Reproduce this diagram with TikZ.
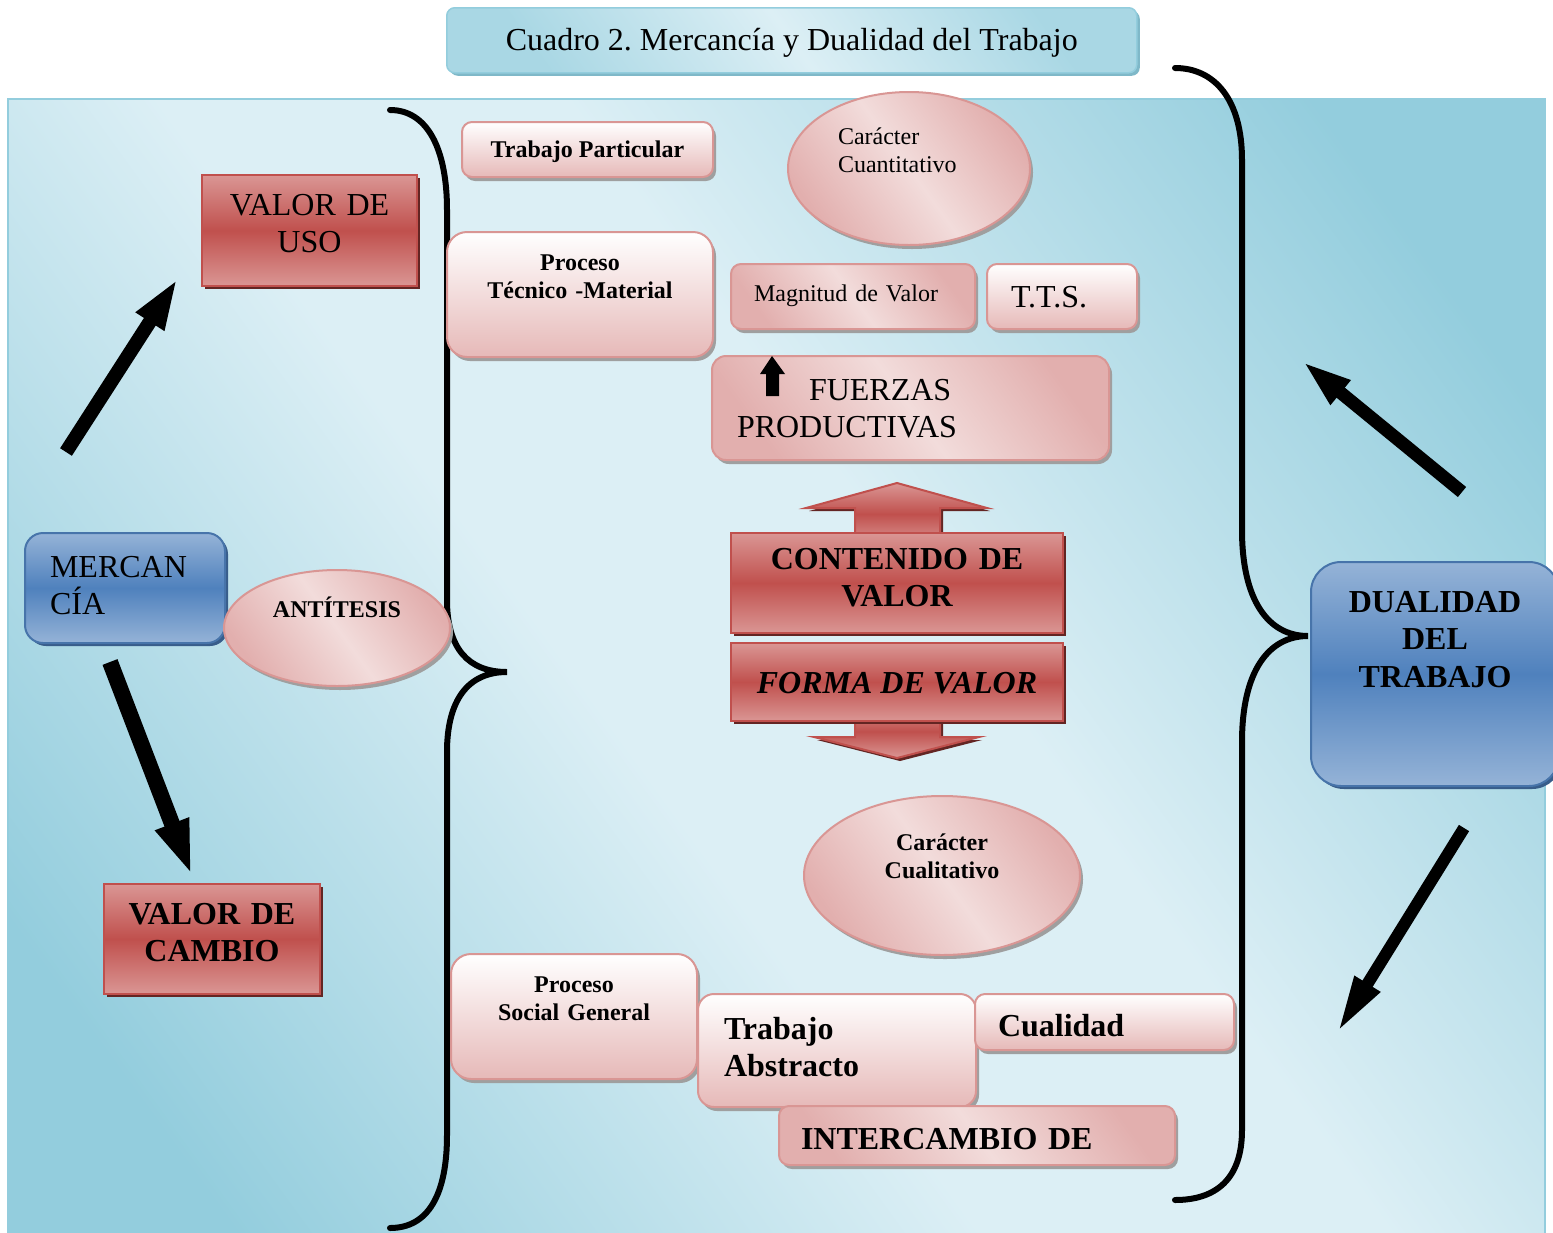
\documentclass[tikz,border=0pt]{standalone}
\usepackage{fontspec}
\setmainfont{Liberation Serif}
\usetikzlibrary{arrows.meta,positioning,shapes.geometric,shadows}
\definecolor{panelL}{HTML}{DCEFF5}
\definecolor{panelD}{HTML}{93CDDD}
\definecolor{titleS}{HTML}{7FB8C8}
\definecolor{redL}{HTML}{DA9694}
\definecolor{redM}{HTML}{C0504D}
\definecolor{redS}{HTML}{632523}
\definecolor{blueL}{HTML}{95B3D7}
\definecolor{blueM}{HTML}{4F81BD}
\definecolor{blueS}{HTML}{385D8A}
\definecolor{pinkL}{HTML}{F2DCDB}
\definecolor{pinkV}{HTML}{E6B9B8}
\definecolor{pinkD}{HTML}{E2AFAE}
\definecolor{pinkB}{HTML}{D99694}
\pgfdeclareverticalshading{panelshade}{100bp}{color(0bp)=(panelD); color(22bp)=(panelD); color(44bp)=(panelL); color(56bp)=(panelL); color(78bp)=(panelD); color(100bp)=(panelD)}
\newcommand\bigtxt{\fontsize{32}{37.5}\selectfont}
\newcommand\smltxt{\fontsize{24}{28}\selectfont}
\frenchspacing

\begin{document}
\begin{tikzpicture}[x=1pt,y=-1pt,
  panel/.style={draw=panelD,line width=1.5pt,shading=panelshade,shading angle=-54},
  titlebox/.style={draw=panelD,line width=1.5pt,rounded corners=8pt,top color=panelD!70!panelL,bottom color=panelD!70!panelL,middle color=panelL,shading angle=-54,
    drop shadow={shadow xshift=3pt,shadow yshift=-3pt,fill=titleS,opacity=1},inner sep=0pt,anchor=north west},
  redbox/.style={draw=redM,line width=2pt,top color=redL,bottom color=redL,middle color=redM,
    drop shadow={shadow xshift=3pt,shadow yshift=-3pt,fill=redS,opacity=1},inner sep=0pt,anchor=north west},
  bluebox/.style={draw=blueM!90!black,line width=2pt,rounded corners=18pt,top color=blueL,bottom color=blueL,middle color=blueM,
    drop shadow={shadow xshift=3pt,shadow yshift=-3pt,fill=blueS,opacity=1},inner sep=0pt,anchor=north west},
  pinkbox/.style={draw=pinkB,line width=2pt,rounded corners=10pt,top color=white,bottom color=pinkV,
    drop shadow={shadow xshift=3pt,shadow yshift=-4pt,fill=gray!75,opacity=1},inner sep=0pt,anchor=north west},
  pinkdiag/.style={draw=pinkB,line width=2pt,rounded corners=10pt,top color=pinkD,bottom color=pinkD,middle color=pinkL,shading angle=-54,
    drop shadow={shadow xshift=3pt,shadow yshift=-4pt,fill=gray!75,opacity=1},inner sep=0pt,anchor=north west},
  ovalbox/.style={ellipse,draw=pinkB,line width=2pt,top color=pinkD,bottom color=pinkD,middle color=pinkL,shading angle=-54,
    drop shadow={shadow xshift=3pt,shadow yshift=-4pt,fill=gray!75,opacity=1},inner sep=0pt},
  redarr/.style={draw=redM,line width=2pt,top color=redL,bottom color=redL,middle color=redM,
    drop shadow={shadow xshift=3pt,shadow yshift=-3pt,fill=redS,opacity=1}},
  brace/.style={line width=6pt,line cap=round},
  blk/.style 2 args={line width=13pt,-{Triangle[length=#1,width=#2]}}]

\useasboundingbox (0,0) rectangle (1553,1232);
\path[panel] (8,99) rectangle (1545,1240);

% braces
\draw[brace] (390,110) .. controls (428,110) and (447,150) .. (447,210) -- (447,600)
  .. controls (447,648) and (468,672) .. (507,672) .. controls (468,672) and (447,700) .. (447,752)
  -- (447,1135) .. controls (447,1195) and (428,1228) .. (390,1228);
\draw[brace] (1175,68) .. controls (1215,68) and (1242,100) .. (1242,160) -- (1242,530)
  .. controls (1242,600) and (1268,636) .. (1308,636) .. controls (1268,636) and (1242,672) .. (1242,742)
  -- (1242,1130) .. controls (1242,1180) and (1215,1200) .. (1175,1200);

\node[titlebox,minimum width=690pt,text height=43pt,text depth=22pt,font=\bigtxt] (title) at (446,7) {Cuadro 2. Mercancía y Dualidad del Trabajo};

% left side
\node[redbox,text width=215pt,text height=40pt,text depth=71pt,align=center,font=\bigtxt] (uso) at (201,174) {VALOR DE\\USO};
\node[bluebox,text width=150pt,inner xsep=25pt,text height=44pt,text depth=66pt,align=left,font=\bigtxt] (merc) at (24,532) {MERCAN\\CÍA};
\node[ovalbox,minimum width=226pt,minimum height=116pt,text height=18pt,text depth=40pt,font=\smltxt\bfseries] (anti) at (337,628) {ANTÍTESIS};
\node[redbox,text width=216pt,text height=40pt,text depth=70pt,align=center,font=\bigtxt\bfseries] (cambio) at (103,883) {VALOR DE\\CAMBIO};

% upper middle
\node[pinkbox,minimum width=251pt,text height=35pt,text depth=20pt,font=\smltxt\bfseries] (tpart) at (461,121) {Trabajo Particular};
\node[pinkbox,rounded corners=20pt,text width=266pt,text height=38pt,text depth=87pt,align=center,font=\smltxt\bfseries] (ptec) at (446,231) {Proceso\\Técnico -Material};
\node[ovalbox,minimum width=242pt,minimum height=153pt,text width=142pt,align=left,text height=20pt,text depth=69pt,font=\smltxt] (ccuant) at (909,168.5) {Carácter\\Cuantitativo};
\node[pinkdiag,text width=198pt,inner xsep=23pt,text height=37pt,text depth=28pt,align=left,font=\smltxt] (magn) at (730,263) {Magnitud de Valor};
\node[pinkbox,text width=102pt,inner xsep=24pt,text height=43pt,text depth=22pt,align=left,font=\bigtxt] (tts) at (986,263) {T.T.S.};
\node[pinkdiag,rounded corners=14pt,text width=347pt,inner xsep=25pt,text height=44pt,text depth=60pt,align=left,font=\bigtxt] (fuerzas) at (711,355) {\hspace*{72pt}FUERZAS\\PRODUCTIVAS};
\fill (766,396) -- (766,374) -- (760,374) -- (772,356) -- (785,374) -- (779,374) -- (779,396) -- cycle;

% double arrow
\path[redarr] (855,545) -- (855,508) -- (806,508) -- (897,483) -- (987,508) -- (940,508) -- (940,545) -- cycle;
\path[redarr] (855,705) -- (855,737) -- (814,737) -- (897,758) -- (979,737) -- (940,737) -- (940,705) -- cycle;
\node[redbox,text width=332pt,text height=36pt,text depth=64pt,align=center,font=\bigtxt\bfseries] (cont) at (730,532) {CONTENIDO DE\\VALOR};
\node[redbox,minimum width=332pt,text height=50pt,text depth=28pt,font=\bigtxt\bfseries\itshape] (forma) at (730,642) {FORMA DE VALOR};

% lower middle
\node[ovalbox,minimum width=276pt,minimum height=159pt,text width=150pt,text height=20pt,text depth=71pt,align=center,font=\smltxt\bfseries] (ccual) at (942,875.5) {Carácter\\Cualitativo};
\node[pinkbox,rounded corners=20pt,text width=246pt,text height=38pt,text depth=87pt,align=center,font=\smltxt\bfseries] (psoc) at (450,953) {Proceso\\Social General};
\node[pinkbox,rounded corners=16pt,text width=226pt,inner xsep=26pt,text height=45pt,text depth=68pt,align=left,font=\bigtxt\bfseries] (tabs) at (697,993) {Trabajo\\Abstracto};
\node[pinkbox,text width=213pt,inner xsep=23pt,text height=42pt,text depth=14pt,align=left,font=\bigtxt\bfseries] (cual) at (974,993) {Cualidad};
\node[pinkdiag,text width=352pt,inner xsep=22pt,text height=43pt,text depth=16pt,align=left,font=\bigtxt\bfseries] (inter) at (778,1105) {INTERCAMBIO DE};

% right side
\node[bluebox,rounded corners=30pt,text width=248pt,text height=50pt,text depth=174pt,align=center,font=\bigtxt\bfseries] (dual) at (1310,561) {DUALIDAD\\DEL\\TRABAJO};

% arrows
\coordinate (a1s) at (66,452);   \coordinate (a1e) at (178,278);
\coordinate (a2s) at (110,662);  \coordinate (a2e) at (192,876);
\coordinate (a3s) at (1462,492); \coordinate (a3e) at (1302,361);
\coordinate (a4s) at (1464,828); \coordinate (a4e) at (1337,1033);
\draw[blk={52pt}{30pt},line width=14pt] (a1s) -- (a1e);
\draw[blk={56pt}{32pt},line width=16pt] (a2s) -- (a2e);
\draw[blk={50pt}{28pt}] (a3s) -- (a3e);
\draw[blk={58pt}{27pt},line width=12pt] (a4s) -- (a4e);
\end{tikzpicture}
\end{document}
